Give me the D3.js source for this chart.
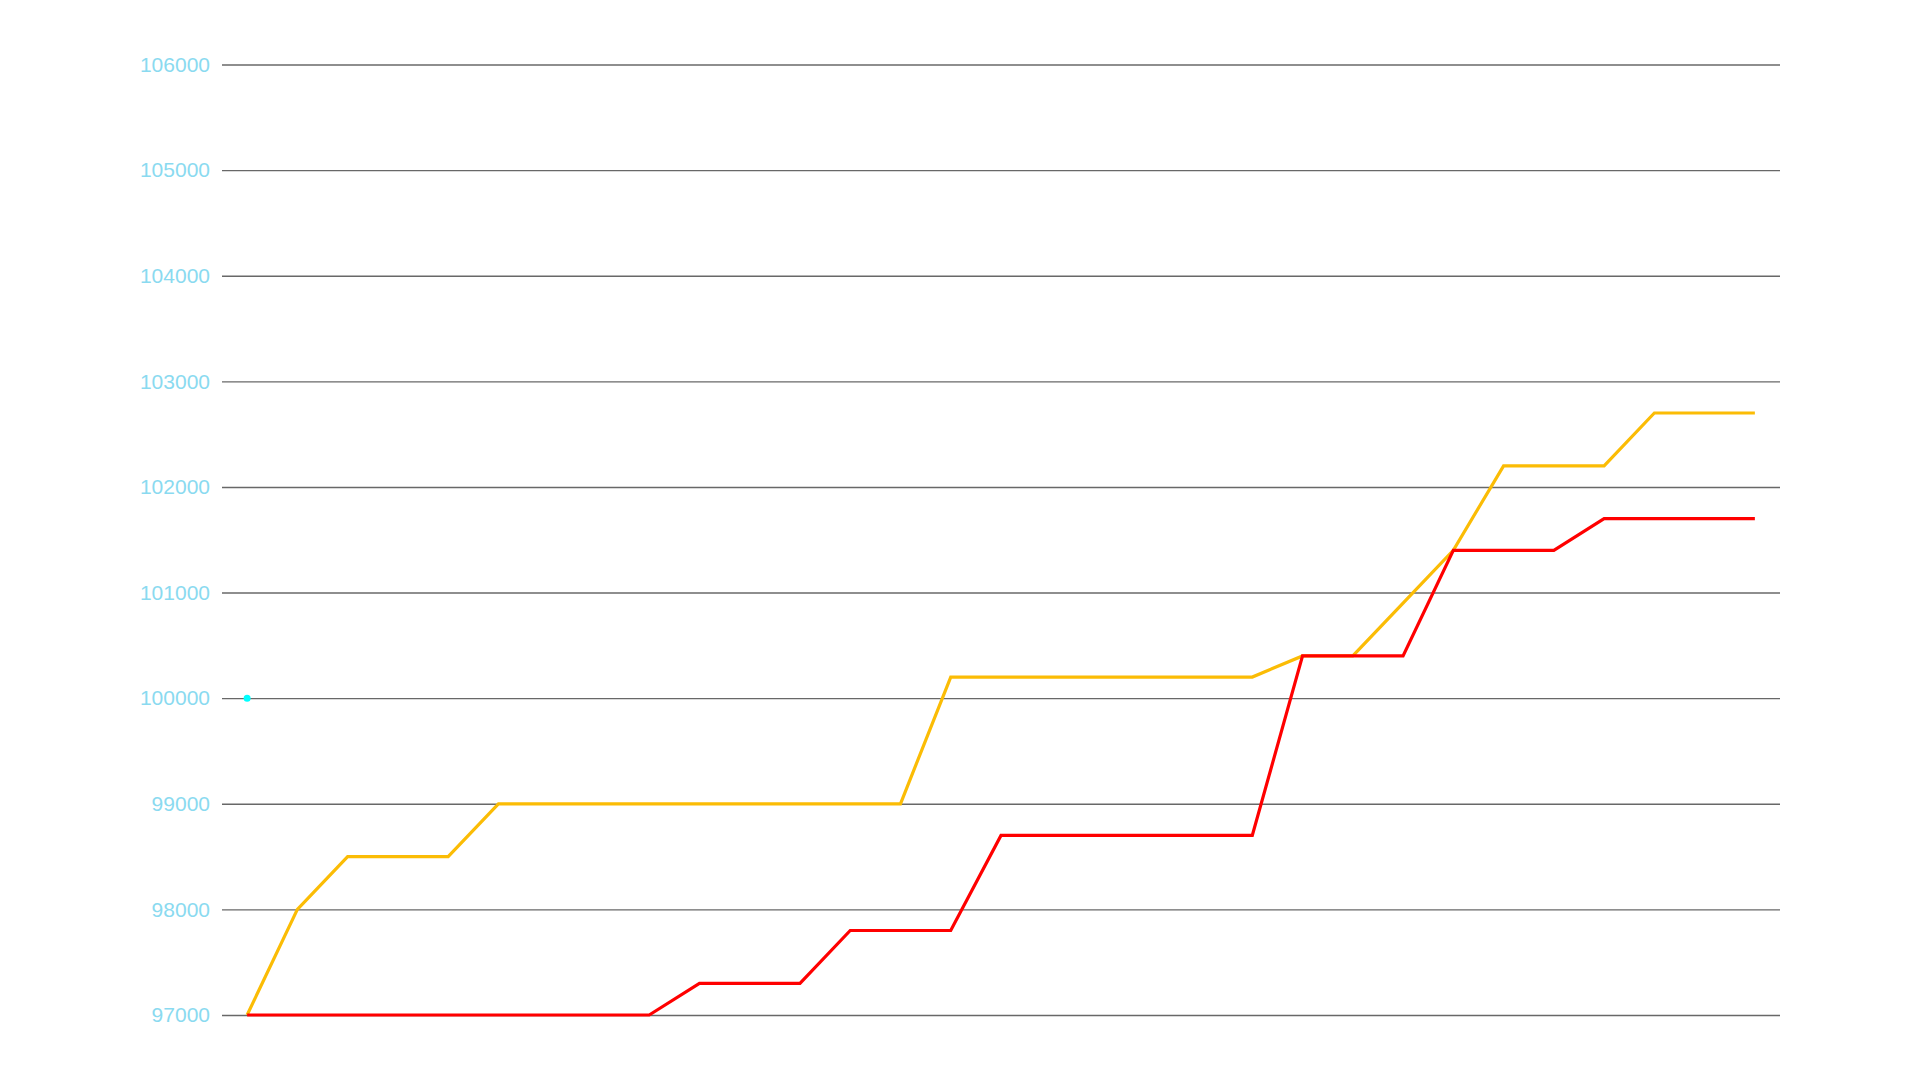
<!DOCTYPE html>
<html>
<head>
<meta charset="utf-8">
<script src="https://cdn.jsdelivr.net/npm/d3@7"></script>
<style>
  html, body { margin: 0; padding: 0; background: #fff; }
  svg { display: block; }
</style>
</head>
<body>
<div class="chart"></div>
<script>
// categories along x (no labels shown on the chart)
var categories = ["1","2","3","4","5","6","7","8","9","10","11","12","13","14","15","16",
  "17","18","19","20","21","22","23","24","25","26","27","28","29","30","31"];

var yellowValues = [97000, 98000, 98500, 98500, 98500, 99000, 99000, 99000, 99000, 99000,
  99000, 99000, 99000, 99000, 100200, 100200, 100200, 100200, 100200, 100200,
  100200, 100400, 100400, 100900, 101400, 102200, 102200, 102200, 102700, 102700, 102700];

var redValues = [97000, 97000, 97000, 97000, 97000, 97000, 97000, 97000, 97000, 97300,
  97300, 97300, 97800, 97800, 97800, 98700, 98700, 98700, 98700, 98700,
  98700, 100400, 100400, 100400, 101400, 101400, 101400, 101700, 101700, 101700, 101700];

// single point series
var cyanValues = [100000];

var yTicks = [97000, 98000, 99000, 100000, 101000, 102000, 103000, 104000, 105000, 106000];

const width = 1920
const height = 1080
const plotLeft = 222, plotRight = 1780, plotTop = 64.5, plotBottom = 1015

let svg = d3.select('.chart')
  .append('svg')
  .attr('width', width)
  .attr('height', height)

let x = d3.scalePoint()
  .domain(categories)
  .range([plotLeft, plotRight])
  .padding(0.5)

let y = d3.scaleLinear()
  .domain([97000, 106000])
  .range([plotBottom, plotTop])

// y axis + gridlines
let yAxis = svg.append('g')
  .attr('transform', 'translate(' + plotLeft + ',0)')
  .call(d3.axisLeft(y)
    .tickValues(yTicks)
    .tickSize(-(plotRight - plotLeft))
    .tickPadding(12)
    .tickFormat(d3.format('d')))

yAxis.select('.domain').remove()
yAxis.selectAll('.tick line')
  .attr('stroke', '#686868')
  .attr('stroke-width', 1.4)
yAxis.selectAll('.tick text')
  .attr('fill', '#8adaf0')
  .attr('font-family', 'Liberation Sans, Arial, sans-serif')
  .attr('font-size', 21)

let line = d3.line()
  .x((d, i) => x(categories[i]))
  .y(d => y(d))

svg.append('path')
  .datum(yellowValues)
  .attr('d', line)
  .attr('fill', 'none')
  .attr('stroke', '#fbbc05')
  .attr('stroke-width', 3.2)

svg.append('path')
  .datum(redValues)
  .attr('d', line)
  .attr('fill', 'none')
  .attr('stroke', '#ff0000')
  .attr('stroke-width', 3.2)

svg.selectAll('circle.cyan')
  .data(cyanValues)
  .enter()
  .append('circle')
  .attr('class', 'cyan')
  .attr('cx', (d, i) => x(categories[i]))
  .attr('cy', d => y(d))
  .attr('r', 3.5)
  .attr('fill', '#00ffff')
</script>
</body>
</html>
